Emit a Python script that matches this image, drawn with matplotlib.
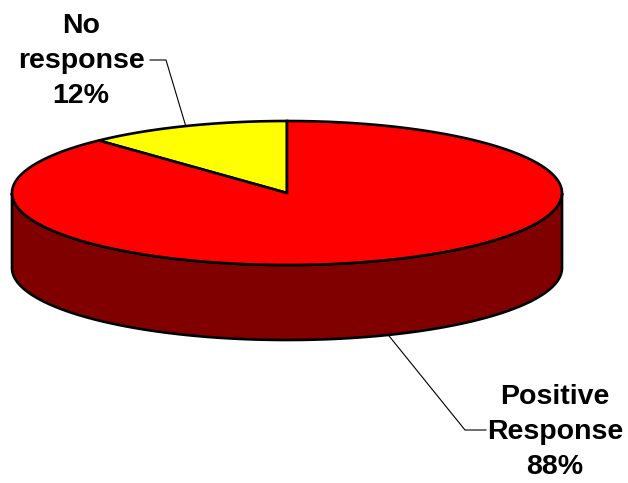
import numpy as np
import matplotlib
matplotlib.use("Agg")
import matplotlib.pyplot as plt
from matplotlib.patches import Polygon

labels = ["No\nresponse\n12%", "Positive\nResponse\n88%"]
values = [12, 88]
top_colors = ["#FFFF00", "#FF0000"]
side_color = "#800000"

# geometry of the tilted pie, in pixels
cx, cy = 287, 193
a, b = 275, 72
depth = 75
start = 90.0

fig = plt.figure(figsize=(6.28, 4.83), dpi=100)
ax = fig.add_axes([0, 0, 1, 1])
ax.set_xlim(0, 628)
ax.set_ylim(483, 0)
ax.axis("off")


def ell(t_deg, dy=0.0):
    t = np.radians(t_deg)
    return cx + a * np.cos(t), cy - b * np.sin(t) + dy


# front side wall
t = np.linspace(180, 360, 200)
tx, ty = ell(t)
bx, by = ell(t[::-1], depth)
side = np.column_stack([np.r_[tx, bx], np.r_[ty, by]])
ax.add_patch(Polygon(side, closed=True, fc=side_color, ec="black", lw=1.9, zorder=1))

# top faces
angles = start + 360 * np.cumsum([0] + values) / sum(values)
mids = []
for i in range(len(values)):
    t = np.linspace(angles[i], angles[i + 1], 300)
    x, y = ell(t)
    pts = np.column_stack([np.r_[cx, x], np.r_[cy, y]])
    ax.add_patch(Polygon(pts, closed=True, fc=top_colors[i], ec="black", lw=1.9,
                         joinstyle="miter", zorder=2))
    mids.append((angles[i] + angles[i + 1]) / 2)

font = dict(family=["Liberation Sans", "DejaVu Sans"], fontsize=20.5, fontweight="bold",
            ha="center", va="center", linespacing=1.45)

# label 1: No response (leader from top rim)
px, py = ell(mids[0])
ax.plot([px, 166, 150], [py, 60, 60], color="black", lw=0.8, zorder=3)
ax.text(81, 61, labels[0], **font)

# label 2: Positive Response (leader from bottom rim)
px, py = ell(mids[1], depth)
ax.plot([px, 465, 486], [py, 430, 430], color="black", lw=0.8, zorder=3)
ax.text(555, 432, labels[1], **font)

fig.savefig("out.png", dpi=100)
